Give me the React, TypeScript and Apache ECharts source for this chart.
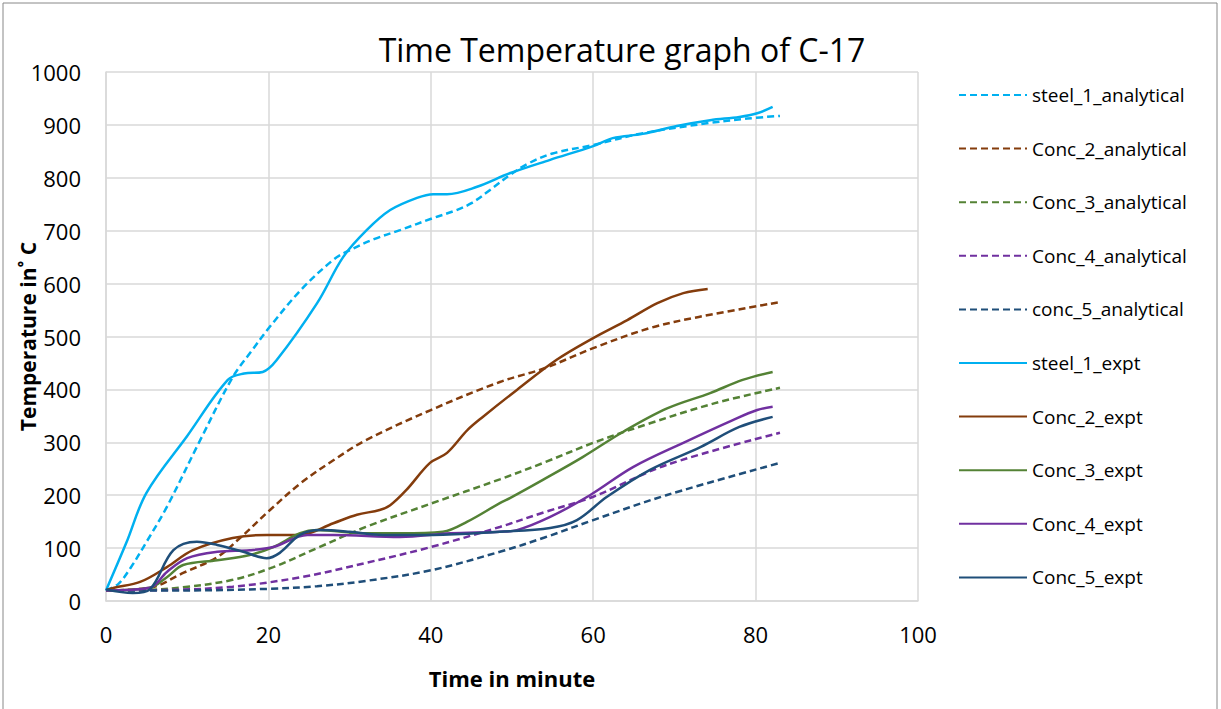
import React, { useEffect, useRef } from "react";
import * as echarts from "echarts";

const titleText = "Time Temperature graph of C-17";
const xName = "Time in minute";
const yName = "Temperature in˚ C";

const steel1Analytical = [[0,20],[1.5,32],[3,62],[5,112],[7.5,178],[11.6,304],[15.6,423],[18,474],[20,515],[24,588],[28,645],[30,663],[33,684],[36.2,701],[40.3,724],[43,738],[45,752],[47.3,777],[49.8,806],[52,827],[55,846],[60,862],[66,884],[74,903],[79,912],[83,917]];
const conc2Analytical = [[0,20],[5.4,25],[9.5,53],[13.7,83],[16.5,119],[20.2,172],[24,223],[28,266],[32,304],[40,361],[48.5,414],[54,440],[60,478],[67,516],[73,537],[83,565]];
const conc3Analytical = [[0,20],[5,21],[9.5,26],[15.6,40],[20.6,64],[26,100],[32,140],[40,184],[48.5,230],[54,262],[60,299],[67,336],[75,374],[83,403]];
const conc4Analytical = [[0,20],[8,21],[15.6,27],[24,45],[32,72],[40,102],[48.5,140],[54,168],[60,197],[69,257],[83,318]];
const conc5Analytical = [[0,20],[10,20],[20,23],[26,28],[32,38],[40,58],[48.5,93],[54,120],[60,153],[69,200],[83,261]];
const steel1Expt = [[0,20],[2.5,110],[5,205],[10,312],[15,418],[17,430],[19.3,433],[21,455],[26,563],[29.2,650],[32.1,701],[35,739],[38.3,762],[40.3,769],[42,769],[45.7,783],[49.8,809],[54.7,834],[60,860],[62.4,875],[66.1,883],[70.3,898],[74.4,909],[78,915],[80.2,922],[82.1,934]];
const conc2Expt = [[0,20],[1,25],[4.2,36],[7.5,64],[10.7,96],[15.6,119],[19.8,125],[23.9,125],[28,147],[30.9,163],[33.7,172],[35,181],[37,210],[39.9,261],[42,280],[44.5,323],[46.4,348],[50.6,399],[55.5,456],[60,497],[64.2,531],[67.9,563],[71.1,582],[74.1,590]];
const conc3Expt = [[0,20],[5.4,25],[7.5,45],[9.5,68],[13.7,77],[17.7,87],[20.6,102],[23.9,128],[26,134],[32.1,128],[36.2,128],[41.5,131],[44.5,150],[48.5,185],[49.8,195],[53.8,229],[58.7,272],[63.7,320],[69.1,364],[74.4,393],[78.4,418],[82.1,433]];
const conc4Expt = [[0,20],[5.4,25],[7.5,55],[10,81],[13.7,93],[17.7,96],[20.6,102],[24.8,125],[28,125],[36.2,121],[42.4,128],[48.5,131],[50.6,134],[54.7,159],[59.6,200],[64.9,253],[71.1,299],[77.2,342],[80.2,361],[82.1,367]];
const conc5Expt = [[0,22],[3.3,15],[5.4,22],[8.3,96],[11.2,112],[13.7,106],[16.9,93],[19.8,81],[21.4,91],[23.9,125],[26.4,134],[30,131],[34.1,125],[40.3,125],[48.5,131],[54.7,138],[58,153],[61.7,197],[67,248],[73.2,291],[78,329],[82.1,348]];

const seriesNames = ["steel_1_analytical","Conc_2_analytical","Conc_3_analytical","Conc_4_analytical","conc_5_analytical","steel_1_expt","Conc_2_expt","Conc_3_expt","Conc_4_expt","Conc_5_expt"];
const seriesData = [steel1Analytical, conc2Analytical, conc3Analytical, conc4Analytical, conc5Analytical, steel1Expt, conc2Expt, conc3Expt, conc4Expt, conc5Expt];
const colors = ["#00B0F0","#843C0C","#548235","#7030A0","#1F4E79","#00B0F0","#843C0C","#548235","#7030A0","#1F4E79"];

const FONT = "Open Sans";

export default function App() {
  const ref = useRef<HTMLDivElement>(null);
  useEffect(() => {
    document.body.style.margin = "0";
    const chart = echarts.init(ref.current!, null, { renderer: "svg" });
    chart.setOption({
      animation: false,
      backgroundColor: "#fff",
      title: {
        text: titleText,
        left: 617,
        textAlign: "center",
        top: 28,
        textStyle: { fontFamily: FONT, fontSize: 32, fontWeight: "normal", color: "#000" },
      },
      graphic: [
        { type: "rect", shape: { x: 3, y: 3, width: 1214, height: 720 }, style: { fill: "none", stroke: "#888", lineWidth: 1 }, silent: true },
      ],
      legend: {
        orient: "vertical",
        left: 953,
        top: 80,
        itemWidth: 68,
        itemHeight: 20,
        itemGap: 33.6,
        itemStyle: { opacity: 0 },
        textStyle: { fontFamily: FONT, fontSize: 19, color: "#000", lineHeight: 20 },
        data: seriesNames,
      },
      grid: { left: 106, right: 303, top: 72, bottom: 108, containLabel: false, outerBoundsMode: "none" },
      xAxis: {
        type: "value",
        min: 0,
        max: 100,
        interval: 20,
        name: xName,
        nameLocation: "middle",
        nameGap: 66,
        nameMoveOverlap: false,
        nameTextStyle: { fontFamily: FONT, fontSize: 22, fontWeight: "bold", color: "#000" },
        axisLine: { lineStyle: { color: "#d9d9d9", width: 1.5 } },
        axisTick: { show: false },
        axisLabel: { fontFamily: FONT, fontSize: 22, color: "#000", margin: 22 },
        splitLine: { show: true, lineStyle: { color: "#d9d9d9", width: 1.5 } },
      },
      yAxis: {
        type: "value",
        min: 0,
        max: 1000,
        interval: 100,
        name: yName,
        nameLocation: "middle",
        nameGap: 68,
        nameMoveOverlap: false,
        nameTextStyle: { fontFamily: FONT, fontSize: 21, fontWeight: "bold", color: "#000" },
        axisLine: { show: true, lineStyle: { color: "#d9d9d9", width: 1.5 } },
        axisTick: { show: false },
        axisLabel: { fontFamily: FONT, fontSize: 22, color: "#000", margin: 25, formatter: (v: number) => String(v) },
        splitLine: { show: true, lineStyle: { color: "#d9d9d9", width: 1.5 } },
      },
      series: seriesNames.map((n, i) => ({
        name: n,
        type: "line",
        data: seriesData[i],
        smooth: 0.35,
        showSymbol: false,
        symbol: "none",
        color: colors[i],
        lineStyle: { color: colors[i], width: 2.5, type: i < 5 ? [7, 4] : "solid" },
      })),
    });
    return () => chart.dispose();
  }, []);
  return <div ref={ref} style={{ width: 1221, height: 709 }} />;
}
